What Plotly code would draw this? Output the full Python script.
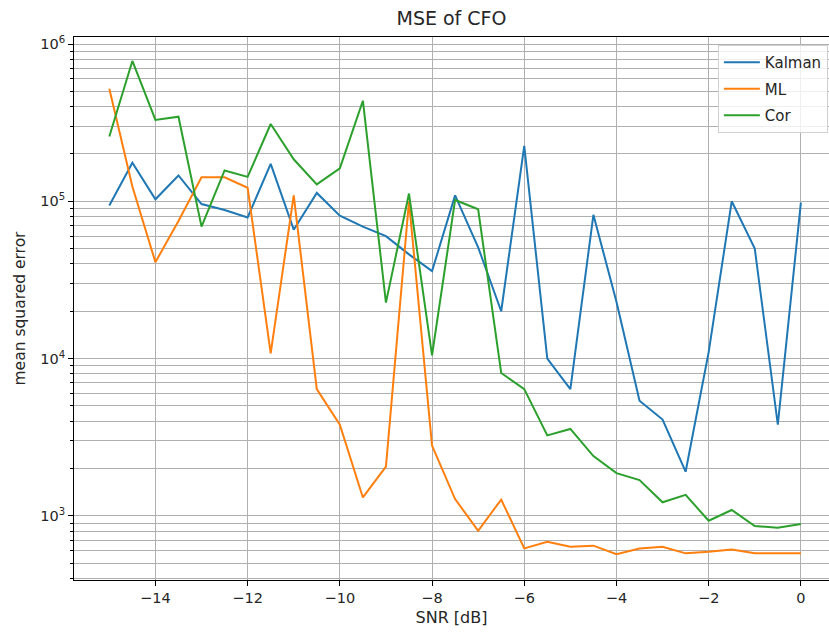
import plotly.graph_objects as go

# SNR sweep in dB
snr_db = [-15.0, -14.5, -14.0, -13.5, -13.0, -12.5, -12.0, -11.5, -11.0, -10.5,
          -10.0, -9.5, -9.0, -8.5, -8.0, -7.5, -7.0, -6.5, -6.0, -5.5,
          -5.0, -4.5, -4.0, -3.5, -3.0, -2.5, -2.0, -1.5, -1.0, -0.5, 0.0]

# Mean squared error of the CFO estimate for each estimator
mse_kalman = [9.4e4, 1.76e5, 1.03e5, 1.46e5, 9.6e4, 8.8e4, 7.9e4, 1.73e5, 6.6e4, 1.13e5,
              8.1e4, 6.9e4, 6.0e4, 4.6e4, 3.6e4, 1.09e5, 5.1e4, 2.0e4, 2.25e5, 1.0e4,
              6.4e3, 8.2e4, 2.3e4, 5.4e3, 4.1e3, 1.91e3, 1.1e4, 1.0e5, 5.0e4, 3.8e3, 9.8e4]
mse_ml = [5.2e5, 1.24e5, 4.1e4, 7.5e4, 1.42e5, 1.42e5, 1.22e5, 1.08e4, 1.09e5, 6.4e3,
          3.8e3, 1.31e3, 2.06e3, 1.0e5, 2.8e3, 1.28e3, 805, 1.27e3, 622, 685,
          637, 647, 570, 620, 637, 578, 592, 612, 578, 578, 578]
mse_cor = [2.58e5, 7.8e5, 3.29e5, 3.45e5, 6.9e4, 1.57e5, 1.43e5, 3.1e5, 1.85e5, 1.28e5,
           1.62e5, 4.36e5, 2.27e4, 1.12e5, 1.05e4, 1.02e5, 8.9e4, 8.1e3, 6.4e3, 3.25e3,
           3.57e3, 2.4e3, 1.87e3, 1.69e3, 1.22e3, 1.36e3, 932, 1.09e3, 862, 841, 888]

x_ticks = [-14, -12, -10, -8, -6, -4, -2, 0]
y_ticks = [1e3, 1e4, 1e5, 1e6]
y_minor = [m * 10 ** e for e in range(2, 6) for m in range(2, 10)]

series = [("Kalman", mse_kalman, "#1f77b4"),
          ("ML", mse_ml, "#ff7f0e"),
          ("Cor", mse_cor, "#2ca02c")]

fig = go.Figure()
for name, values, color in series:
    fig.add_trace(go.Scatter(x=snr_db, y=values, mode="lines", name=name,
                             legendgroup=name,
                             line=dict(color=color, width=2)))

font = "DejaVu Sans, sans-serif"
fig.update_layout(
    width=829, height=634,
    margin=dict(l=74, r=0, t=37, b=54),
    paper_bgcolor="white", plot_bgcolor="white",
    font=dict(family=font, size=14.5, color="#262626"),
    title=dict(text="MSE of CFO", x=0.5, xref="paper", xanchor="center",
               y=1 - 18 / 634, yanchor="middle", font=dict(size=19, color="#262626")),
    showlegend=True,
    legend=dict(x=0.9985, xanchor="right", y=1 - 8 / 543, yanchor="top",
                bgcolor="rgba(255,255,255,0.8)", bordercolor="#d0d0d0", borderwidth=1,
                font=dict(size=15, color="#262626"), tracegroupgap=4,
                itemwidth=36),
)
fig.update_xaxes(
    range=[-15.766, 0.61], tickvals=x_ticks,
    ticktext=[("\u2212" + str(-t)) if t < 0 else str(t) for t in x_ticks],
    showgrid=True, gridcolor="#b0b0b0", gridwidth=1, zeroline=False,
    showline=True, linecolor="black", linewidth=1, mirror=True,
    ticks="outside", ticklen=5, tickcolor="black",
    tickfont=dict(size=14.5),
    title=dict(text="SNR [dB]", standoff=6, font=dict(size=16)),
)
fig.update_yaxes(
    type="log", range=[2.5925, 6.0445], tickvals=y_ticks,
    ticktext=["10<sup>%d</sup>" % e for e in range(3, 7)],
    showgrid=True, gridcolor="#b0b0b0", gridwidth=1, zeroline=False,
    showline=True, linecolor="black", linewidth=1,
    ticks="outside", ticklen=5, tickcolor="black",
    tickfont=dict(size=14.5),
    minor=dict(tickvals=y_minor, showgrid=True, gridcolor="#b0b0b0", gridwidth=1,
               ticks="outside", ticklen=3, tickcolor="black"),
    title=dict(text="mean squared error", standoff=10, font=dict(size=15.5)),
)

fig.write_html("out.html")
